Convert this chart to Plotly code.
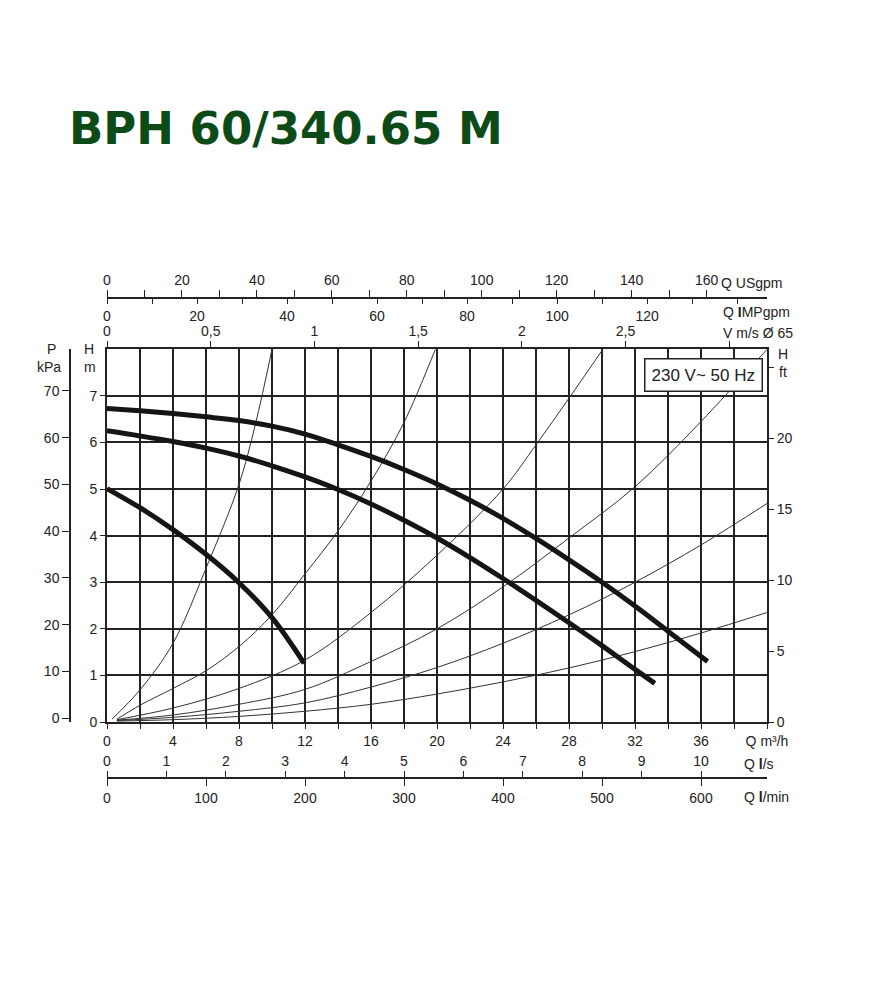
import plotly.graph_objects as go

# krivky cerpadla, Q [m3/h] vs H [m]
q_max = [0, 2, 4, 6, 8, 10, 12, 14, 16, 18, 20, 22, 24, 26, 28, 30, 32, 34, 36.4]
h_max = [6.73, 6.68, 6.62, 6.55, 6.47, 6.35, 6.18, 5.95, 5.70, 5.42, 5.11, 4.76, 4.37, 3.94, 3.48, 3.00, 2.49, 1.95, 1.30]

q_mid = [0, 2, 4, 6, 8, 10, 12, 14, 16, 18, 20, 22, 24, 26, 28, 30, 32, 33.2]
h_mid = [6.25, 6.14, 6.02, 5.88, 5.71, 5.50, 5.26, 4.99, 4.68, 4.33, 3.95, 3.53, 3.08, 2.61, 2.13, 1.64, 1.13, 0.83]

q_min = [0, 2, 4, 6, 8, 10, 11.95]
h_min = [5.01, 4.60, 4.13, 3.60, 2.99, 2.24, 1.26]

# krivky systemu (tenke)
q_sys_a = [0.3, 2, 4, 6, 8, 9, 10]
h_sys_a = [0.06, 0.69, 1.69, 3.3, 5.1, 6.4, 8.0]

q_sys_b = [0.6, 2, 4, 6, 8, 10, 12, 14, 16, 18, 19.9]
h_sys_b = [0.06, 0.36, 0.72, 1.10, 1.62, 2.3, 3.18, 4.1, 5.17, 6.43, 8.0]

q_sys_c = [0.6, 4, 8, 12, 16, 20, 24, 26, 28, 30.05]
h_sys_c = [0.05, 0.3, 0.72, 1.33, 2.35, 3.58, 5.0, 5.95, 6.95, 8.0]

q_sys_d = [0.6, 4, 8, 12, 16, 20, 24, 28, 32, 36, 40]
h_sys_d = [0.04, 0.15, 0.38, 0.7, 1.3, 2.0, 2.9, 3.95, 5.05, 6.45, 8.0]

q_sys_e = [0.6, 4, 8, 12, 16, 20, 24, 28, 32, 36, 40]
h_sys_e = [0.03, 0.1, 0.23, 0.41, 0.75, 1.17, 1.69, 2.3, 3.0, 3.8, 4.69]

q_sys_f = [0.6, 4, 8, 12, 16, 20, 24, 28, 32, 36, 40]
h_sys_f = [0.02, 0.05, 0.12, 0.23, 0.38, 0.6, 0.86, 1.16, 1.51, 1.91, 2.35]

# popisky os
m3h_ticks = [0, 4, 8, 12, 16, 20, 24, 28, 32, 36, 40]
m3h_labels = ["0", "4", "8", "12", "16", "20", "24", "28", "32", "36", "Q m³/h"]
h_ticks = [0, 1, 2, 3, 4, 5, 6, 7]
kpa_ticks = [0, 10, 20, 30, 40, 50, 60, 70]
ft_ticks = [0, 5, 10, 15, 20, 25]
ft_labels = ["0", "5", "10", "15", "20", ""]
usgpm_ticks = list(range(0, 170, 10))
usgpm_labels = [str(v) if v % 20 == 0 else "" for v in usgpm_ticks]
impgpm_ticks = list(range(0, 150, 10))
impgpm_labels = [str(v) if v % 20 == 0 and v <= 120 else "" for v in impgpm_ticks]
vel_ticks = [0, 0.5, 1, 1.5, 2, 2.5, 3]
vel_labels = ["0", "0,5", "1", "1,5", "2", "2,5", ""]
ls_ticks = list(range(0, 11))
lmin_ticks = [0, 100, 200, 300, 400, 500, 600]

# stranka ma okraj 8 px, souradnice nize jsou v pixelech okna
OFF = 8
W, HF = 885 - OFF, 1000 - OFF
ML, MR, MT, MB = 32, 32, 242, 172


def px_x(x):
    return (x - OFF - ML) / (W - ML - MR)


def px_y(y):
    return (HF - MB - (y - OFF)) / (HF - MT - MB)


INK = "#222222"
FONT = dict(family="Liberation Sans, Arial, sans-serif", size=14, color=INK)

fig = go.Figure()

for q, h in [(q_sys_a, h_sys_a), (q_sys_b, h_sys_b), (q_sys_c, h_sys_c),
             (q_sys_d, h_sys_d), (q_sys_e, h_sys_e), (q_sys_f, h_sys_f)]:
    fig.add_trace(go.Scatter(x=q, y=h, mode="lines", line=dict(color="#333333", width=1, shape="spline"),
                             showlegend=False, hoverinfo="skip"))

for q, h in [(q_max, h_max), (q_mid, h_mid), (q_min, h_min)]:
    fig.add_trace(go.Scatter(x=q, y=h, mode="lines", line=dict(color="#151515", width=5, shape="spline"),
                             showlegend=False))

# prazdne stopy, aby se vykreslily vsechny pomocne osy
for xa, ya in [("x2", "y"), ("x3", "y"), ("x4", "y"), ("x5", "y"), ("x6", "y"), ("x", "y2"), ("x", "y3")]:
    fig.add_trace(go.Scatter(x=[None], y=[None], xaxis=xa, yaxis=ya, showlegend=False, hoverinfo="skip"))

dom_x = [px_x(107), px_x(767)]
dom_y = [px_y(722), px_y(349.3)]
top_pos = px_y(298)
bot_pos = px_y(778)

fig.update_layout(
    width=W, height=HF,
    margin=dict(l=ML, r=MR, t=MT, b=MB),
    paper_bgcolor="white", plot_bgcolor="white",
    font=FONT,
    xaxis=dict(domain=dom_x, range=[0, 40], anchor="y", tickvals=m3h_ticks, ticktext=m3h_labels,
               ticks="outside", ticklen=5, tickcolor=INK, showgrid=True, gridcolor=INK, gridwidth=1.5,
               showline=True, linecolor=INK, linewidth=2, mirror=True, zeroline=False,
               minor=dict(dtick=2, tick0=0, ticks="outside", ticklen=5, tickcolor=INK,
                          showgrid=True, gridcolor=INK, gridwidth=1.5)),
    yaxis=dict(domain=dom_y, range=[0, 8], anchor="x", tickvals=h_ticks, ticks="outside", ticklen=5,
               tickcolor=INK, showgrid=True, gridcolor=INK, gridwidth=1.5, showline=True,
               linecolor=INK, linewidth=2, mirror=True, zeroline=False),
    yaxis2=dict(overlaying="y", anchor="free", position=px_x(70), side="left", range=[-0.8, 78.9],
                tickvals=kpa_ticks, ticks="outside", ticklen=7, tickcolor=INK, showgrid=False,
                showline=True, linecolor=INK, linewidth=1.5, zeroline=False),
    yaxis3=dict(overlaying="y", anchor="x", side="right", range=[0, 8 / 0.3048],
                tickvals=ft_ticks, ticktext=ft_labels, ticks="outside", ticklen=6, tickcolor=INK,
                showgrid=False, showline=False, zeroline=False),
    xaxis2=dict(overlaying="x", anchor="free", position=top_pos, side="top", range=[0, 40 * 4.403],
                tickvals=usgpm_ticks, ticktext=usgpm_labels, ticks="outside", ticklen=7, tickcolor=INK,
                showgrid=False, showline=True, linecolor=INK, linewidth=1.5, zeroline=False),
    xaxis3=dict(overlaying="x", anchor="free", position=top_pos, side="bottom", range=[0, 40 * 3.666],
                tickvals=impgpm_ticks, ticktext=impgpm_labels, ticks="outside", ticklen=5, tickcolor=INK,
                showgrid=False, showline=False, zeroline=False),
    xaxis4=dict(overlaying="x", anchor="y", side="top", range=[0, 40 / 12.57],
                tickvals=vel_ticks, ticktext=vel_labels, ticks="outside", ticklen=7, tickcolor=INK,
                showgrid=False, showline=False, zeroline=False),
    xaxis5=dict(overlaying="x", anchor="free", position=bot_pos, side="top", range=[0, 40 / 3.6],
                tickvals=ls_ticks, ticks="outside", ticklen=6, tickcolor=INK,
                showgrid=False, showline=True, linecolor=INK, linewidth=1.5, zeroline=False),
    xaxis6=dict(overlaying="x", anchor="free", position=bot_pos, side="bottom", range=[0, 40 / 0.06],
                tickvals=lmin_ticks, ticks="outside", ticklen=7, tickcolor=INK,
                showgrid=False, showline=False, zeroline=False),
)


def label(text, x, y, anchor="center", size=14, **kw):
    fig.add_annotation(text=text, x=px_x(x), y=px_y(y), xref="paper", yref="paper",
                       xanchor=anchor, yanchor="middle", showarrow=False,
                       font=dict(family=FONT["family"], size=size, color=INK), **kw)


label("P", 51, 349)
label("kPa", 49, 367)
label("H", 89, 349)
label("m", 90, 367)
label("H", 776, 354, anchor="left")
label("ft", 777, 372, anchor="left")
label("Q USgpm", 719, 283, anchor="left")
label("Q <b>I</b>MPgpm", 721, 312, anchor="left")
label("V m/s Ø 65", 721, 333, anchor="left")
label("Q <b>l</b>/s", 742, 764, anchor="left")
label("Q <b>l</b>/min", 742, 797, anchor="left")

fig.add_annotation(text="230 V~ 50 Hz", x=px_x(703), y=px_y(374.5), xref="paper", yref="paper",
                   xanchor="center", yanchor="middle", showarrow=False,
                   font=dict(family="Liberation Sans, Arial", size=17, color=INK),
                   bgcolor="white", bordercolor=INK, borderwidth=1.5, borderpad=6)

fig.add_annotation(text="<b>BPH 60/340.65 M</b>", x=px_x(67), y=px_y(128), xref="paper", yref="paper",
                   xanchor="left", yanchor="middle", showarrow=False,
                   font=dict(family="DejaVu Sans", size=45, color="#0c4a18"))

fig.write_html("out.html")
